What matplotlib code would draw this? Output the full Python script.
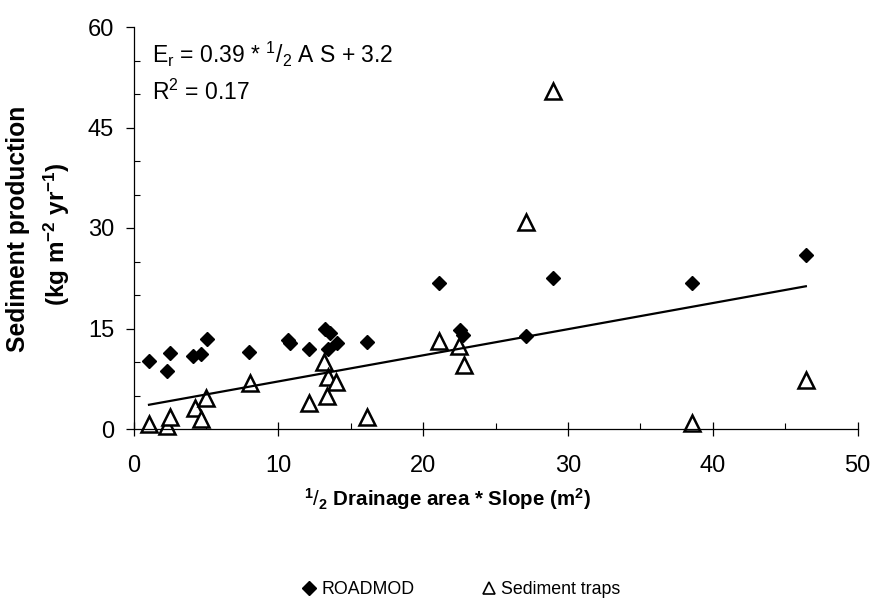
import matplotlib
matplotlib.use("Agg")
import matplotlib.pyplot as plt
from matplotlib.lines import Line2D
from matplotlib.ticker import MultipleLocator

plt.rcParams['font.family'] = ['Liberation Sans', 'DejaVu Sans']
plt.rcParams['mathtext.fontset'] = 'custom'
plt.rcParams['mathtext.rm'] = 'Liberation Sans'
plt.rcParams['mathtext.it'] = 'Liberation Sans:italic'
plt.rcParams['mathtext.bf'] = 'Liberation Sans:bold'

# ROADMOD predictions
roadmod_x = [1.07, 2.29, 2.52, 4.13, 4.66, 5.06, 7.98, 10.7, 10.8, 12.12, 13.2, 13.6,
             13.45, 14.03, 16.1, 21.1, 22.55, 22.78, 27.09, 28.99, 38.55, 46.42]
roadmod_y = [10.2, 8.7, 11.4, 10.9, 11.15, 13.4, 11.45, 13.3, 12.9, 11.9, 14.9, 14.4,
             12.0, 12.9, 13.0, 21.8, 14.8, 14.0, 13.9, 22.6, 21.8, 25.9]

# Sediment trap measurements
traps_x = [1.07, 2.29, 2.52, 4.25, 4.64, 5.0, 8.05, 12.12, 13.18, 13.41, 13.98, 13.34,
           16.1, 21.12, 22.48, 22.82, 27.09, 28.99, 38.55, 46.42]
traps_y = [0.7, 0.45, 1.75, 3.1, 1.5, 4.7, 6.8, 3.9, 10.0, 7.7, 7.06, 4.9,
           1.75, 13.2, 12.4, 9.55, 30.85, 50.5, 0.85, 7.3]

# Regression line E_r = 0.39 * 1/2 A S + 3.2
fit_slope = 0.39
fit_intercept = 3.2
fit_x = [1.07, 46.42]
fit_y = [fit_slope * v + fit_intercept for v in fit_x]

x_ticks = [0, 10, 20, 30, 40, 50]
y_ticks = [0, 15, 30, 45, 60]

W, H = 875, 601
fig = plt.figure(figsize=(W / 100, H / 100), dpi=100)
ax = fig.add_axes([133.5 / W, 1 - 429 / H, (857.7 - 133.5) / W, (429 - 27) / H])

ax.plot(traps_x, traps_y, linestyle='none', marker='^', ms=11, mfc='white',
        mec='black', mew=1.8, zorder=2, clip_on=False)
ax.plot(fit_x, fit_y, color='black', lw=1.6, zorder=3)
ax.plot(roadmod_x, roadmod_y, linestyle='none', marker='D', ms=7.6, mfc='black',
        mec='black', zorder=4, clip_on=False)

ax.set_xlim(0, 50)
ax.set_ylim(0, 60)
ax.set_xticks(x_ticks)
ax.set_yticks(y_ticks)
ax.xaxis.set_minor_locator(MultipleLocator(5))
ax.yaxis.set_minor_locator(MultipleLocator(5))
for s in ['top', 'right']:
    ax.spines[s].set_visible(False)
for s in ['left', 'bottom']:
    ax.spines[s].set_linewidth(0.9)
ax.tick_params(axis='x', which='major', direction='inout', length=10, width=0.9,
               labelsize=17, pad=14)
ax.tick_params(axis='x', which='minor', direction='in', length=4, width=0.8)
ax.tick_params(axis='y', which='major', direction='out', length=6, width=0.9,
               labelsize=17, pad=8)
ax.tick_params(axis='y', which='minor', direction='in', length=4, width=0.8)

# x label
fig.text(447 / W, 1 - 499 / H,
         r'$^{\mathbf{1}}/_{\mathbf{2}}$ Drainage area * Slope (m$^{\mathbf{2}}$)',
         ha='center', va='center', fontsize=14.8, fontweight='bold')

# y label (two lines)
fig.text(18 / W, 1 - 229 / H, 'Sediment production', rotation=90,
         ha='center', va='center', fontsize=17.7, fontweight='bold')
fig.text(57 / W, 1 - 234 / H, r'(kg m$^{\mathbf{-2}}$ yr$^{\mathbf{-1}}$)', rotation=90,
         ha='center', va='center', fontsize=17.5, fontweight='bold')

# equation
fig.text(152 / W, 1 - 63 / H, r'E$_{\mathrm{r}}$ = 0.39 * $^{1}/_{2}$ A S + 3.2',
         ha='left', va='baseline', fontsize=16.5)
fig.text(152 / W, 1 - 100 / H, r'R$^{2}$ = 0.17', ha='left', va='baseline', fontsize=16.5)

# legend
handles = [
    Line2D([], [], linestyle='none', marker='D', ms=7, mfc='black', mec='black'),
    Line2D([], [], linestyle='none', marker='^', ms=8, mfc='white', mec='black', mew=1.2),
]
fig.legend(handles, ['ROADMOD', 'Sediment traps'], loc='center',
           bbox_to_anchor=(461 / W, 1 - 590 / H), ncol=2, frameon=False,
           fontsize=12.8, handlelength=0.8, handletextpad=0.3, columnspacing=3.8)

fig.savefig('out.png', dpi=100)
